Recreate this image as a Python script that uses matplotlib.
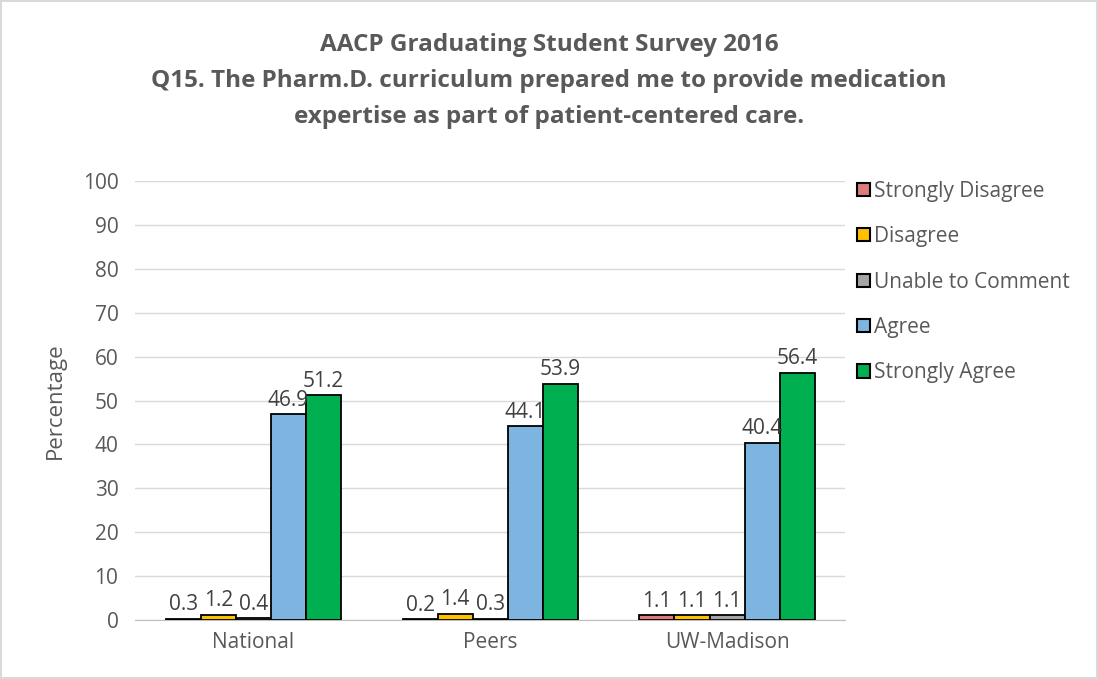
import matplotlib.pyplot as plt
import numpy as np

# data
groups = ['National', 'Peers', 'UW-Madison']
series = ['Strongly Disagree', 'Disagree', 'Unable to Comment', 'Agree', 'Strongly Agree']
strongly_disagree = [0.3, 0.2, 1.1]
disagree = [1.2, 1.4, 1.1]
unable = [0.4, 0.3, 1.1]
agree = [46.9, 44.1, 40.4]
strongly_agree = [51.2, 53.9, 56.4]
colors = ['#E07B7B', '#FFC000', '#A5A5A5', '#7EB5E0', '#00B050']
title_lines = ['AACP Graduating Student Survey 2016',
               'Q15. The Pharm.D. curriculum prepared me to provide medication',
               'expertise as part of patient-centered care.']

values = [strongly_disagree, disagree, unable, agree, strongly_agree]

plt.rcParams['font.family'] = ['Open Sans', 'DejaVu Sans']

fig = plt.figure(figsize=(10.98, 6.79), dpi=100)
ax = fig.add_axes([0.123, 0.087, 0.647, 0.646])

x = np.arange(len(groups))
w = 0.148
for i, (name, vals) in enumerate(zip(series, values)):
    pos = x + (i - 2) * w
    ax.bar(pos, vals, w, color=colors[i], edgecolor='black', linewidth=1.3,
           label=name, zorder=3)
    for p, v in zip(pos, vals):
        ax.text(p, v + 0.8, f'{v:.1f}', ha='center', va='bottom', fontsize=15,
                color='#404040', zorder=4)

ax.set_xlim(-0.5, 2.5)
ax.set_ylim(0, 100)
ax.set_yticks(range(0, 101, 10))
ax.set_xticks(x)
ax.set_xticklabels(groups)
ax.tick_params(axis='both', length=0, labelsize=15, labelcolor='#595959', pad=12)
ax.tick_params(axis='x', pad=9)
ax.yaxis.grid(True, color='#D9D9D9', linewidth=1, zorder=0)
for s in ['top', 'right', 'left']:
    ax.spines[s].set_visible(False)
ax.spines['bottom'].set_color('#BFBFBF')
ax.set_ylabel('Percentage', fontsize=16, color='#595959', labelpad=12)

# title, one line at a time (pixel rows of the original)
for line, ypx in zip(title_lines, [45, 81, 117]):
    fig.text(0.5, 1 - ypx / 679, line, ha='center', va='center', fontsize=17.5,
             fontweight='bold', color='#595959')

leg = ax.legend(loc='upper left', bbox_to_anchor=(1.005, 1.02), frameon=False,
                fontsize=15, handlelength=0.6, handleheight=0.6, handletextpad=0.2,
                labelspacing=1.17, borderaxespad=0)
for t in leg.get_texts():
    t.set_color('#595959')
for h in leg.legend_handles:
    h.set_linewidth(1.5)

fig.patch.set_edgecolor('#D9D9D9')
fig.patch.set_linewidth(1.5)

fig.savefig('out.png', dpi=100, edgecolor=fig.get_edgecolor())
